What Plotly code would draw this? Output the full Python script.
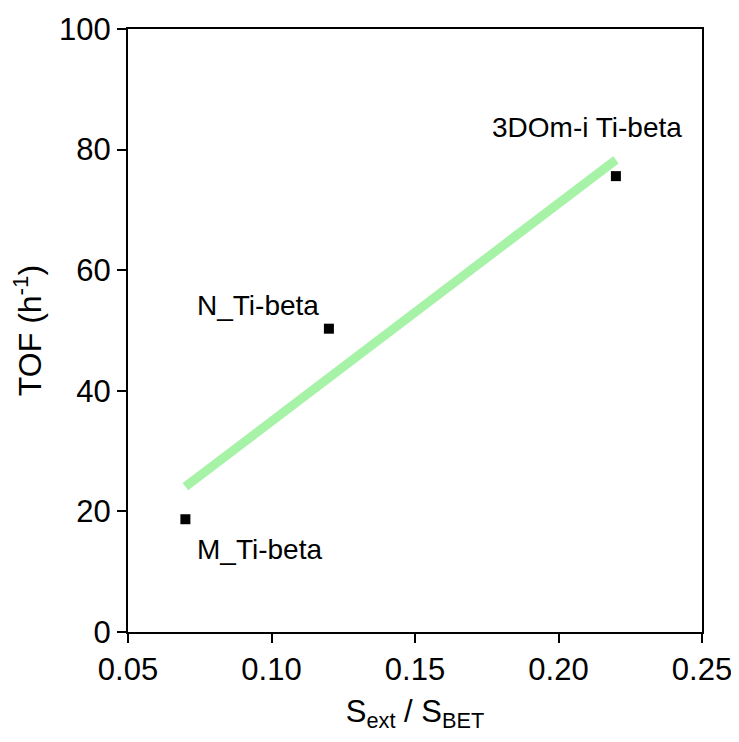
import plotly.graph_objects as go

# data
samples = ["M_Ti-beta", "N_Ti-beta", "3DOm-i Ti-beta"]
sext_sbet = [0.07, 0.12, 0.22]
tof = [18.7, 50.3, 75.6]

fit_x = [0.07, 0.22]
fit_y = [24.1, 78.3]

label_x = [0.0959, 0.0953, 0.2101]
label_y = [13.6, 54.2, 83.6]

FONT = "Arial, Liberation Sans, sans-serif"

fig = go.Figure()
fig.add_trace(go.Scatter(
    x=fit_x, y=fit_y, mode="lines",
    line=dict(color="#a6f2a6", width=9),
    showlegend=False, hoverinfo="skip",
))
fig.add_trace(go.Scatter(
    x=sext_sbet, y=tof, mode="markers",
    marker=dict(symbol="square", size=10, color="black"),
    showlegend=False,
))

for name, lx, ly in zip(samples, label_x, label_y):
    fig.add_annotation(x=lx, y=ly, text=name, showarrow=False,
                       xanchor="center", yanchor="middle",
                       font=dict(family=FONT, size=28, color="black"))

axis_common = dict(
    showline=True, linecolor="black", linewidth=2, mirror=True,
    ticks="outside", ticklen=9, tickwidth=2, tickcolor="black",
    showgrid=False, zeroline=False, automargin=False,
    tickfont=dict(family=FONT, size=31, color="black"),
)

fig.update_xaxes(
    range=[0.05, 0.25], tickvals=[0.05, 0.10, 0.15, 0.20, 0.25],
    ticktext=["0.05", "0.10", "0.15", "0.20", "0.25"],
    title=dict(text="S<sub>ext</sub> / S<sub>BET</sub>",
               font=dict(family=FONT, size=31, color="black"), standoff=14),
    **axis_common,
)
fig.update_yaxes(
    range=[0, 100], tickvals=[0, 20, 40, 60, 80, 100],
    title=dict(text="TOF (h<sup>-1</sup>)",
               font=dict(family=FONT, size=32, color="black"), standoff=12),
    **axis_common,
)

fig.update_layout(
    width=731, height=734,
    margin=dict(l=120, r=37, t=21, b=110),
    plot_bgcolor="white", paper_bgcolor="white",
)

fig.write_html("out.html")
